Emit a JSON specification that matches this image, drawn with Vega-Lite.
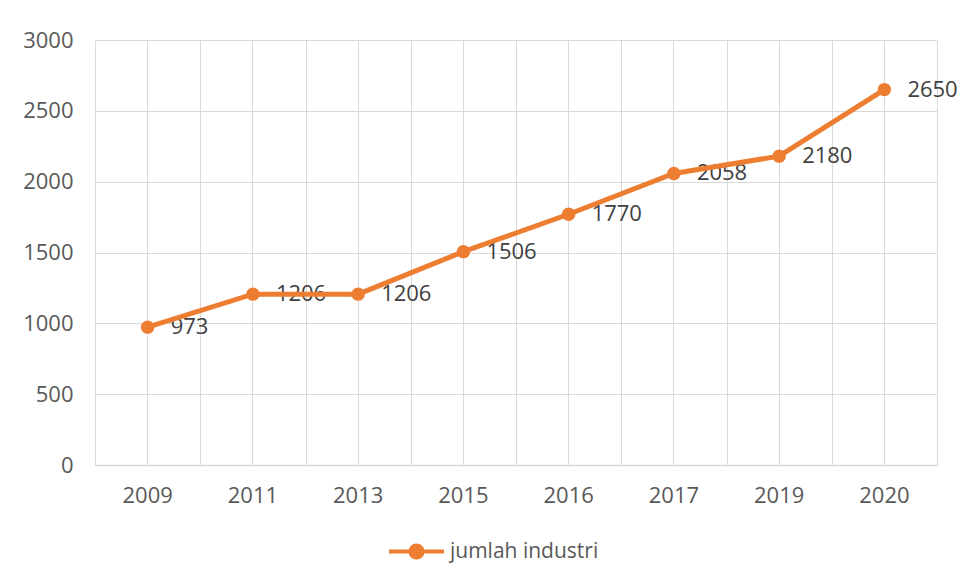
{
  "$schema": "https://vega.github.io/schema/vega-lite/v6.json",
  "width": 842,
  "height": 425,
  "autosize": {"type": "none"},
  "padding": {"left": 95, "top": 40, "right": 22, "bottom": 115},
  "background": "white",
  "config": {"view": {"stroke": null}, "font": "Open Sans"},
  "data": {
    "values": [
      {"year": "2009", "value": 973, "series": "jumlah industri"},
      {"year": "2011", "value": 1206, "series": "jumlah industri"},
      {"year": "2013", "value": 1206, "series": "jumlah industri"},
      {"year": "2015", "value": 1506, "series": "jumlah industri"},
      {"year": "2016", "value": 1770, "series": "jumlah industri"},
      {"year": "2017", "value": 2058, "series": "jumlah industri"},
      {"year": "2019", "value": 2180, "series": "jumlah industri"},
      {"year": "2020", "value": 2650, "series": "jumlah industri"}
    ]
  },
  "resolve": {"axis": {"x": "independent"}},
  "layer": [
    {
      "mark": {"type": "text", "align": "left", "baseline": "middle", "dx": 23, "fontSize": 22, "color": "#404040"},
      "encoding": {
        "x": {"field": "year", "type": "ordinal", "sort": null,
          "scale": {"type": "band", "paddingInner": 0, "paddingOuter": 0},
          "axis": {"orient": "top", "title": null, "labels": false, "ticks": false, "domain": false, "grid": true, "gridColor": "#d9d9d9", "gridWidth": 1, "tickBand": "extent"}},
        "y": {"field": "value", "type": "quantitative", "scale": {"domain": [0, 3000]},
          "axis": {"title": null, "format": "d", "values": [0, 500, 1000, 1500, 2000, 2500, 3000], "labelFontSize": 22, "labelColor": "#595959", "labelPadding": 22, "ticks": false, "domain": false, "grid": true, "gridColor": "#d9d9d9", "gridWidth": 1}},
        "text": {"field": "value", "type": "quantitative", "format": "d"}
      }
    },
    {
      "mark": {"type": "line", "strokeWidth": 5, "point": {"filled": true, "size": 180, "opacity": 1}},
      "encoding": {
        "x": {"field": "year", "type": "ordinal", "sort": null,
          "scale": {"type": "band", "paddingInner": 0, "paddingOuter": 0},
          "axis": {"orient": "bottom", "title": null, "labelAngle": 0, "labelFontSize": 22, "labelColor": "#595959", "labelPadding": 20, "ticks": false, "domain": true, "domainColor": "#d9d9d9", "domainWidth": 1.5, "grid": true, "gridColor": "#d9d9d9", "gridWidth": 1, "tickBand": "center"}},
        "y": {"field": "value", "type": "quantitative", "scale": {"domain": [0, 3000]},
          "axis": {"title": null, "format": "d", "values": [0, 500, 1000, 1500, 2000, 2500, 3000], "labelFontSize": 22, "labelColor": "#595959", "labelPadding": 22, "ticks": false, "domain": false, "grid": true, "gridColor": "#d9d9d9", "gridWidth": 1}},
        "color": {"field": "series", "type": "nominal",
          "scale": {"range": ["#ED7D31"]},
          "legend": {
            "orient": "none", "legendX": 292, "legendY": 482, "title": null, "padding": 0,
            "symbolType": "M-1,0H1M-0.22,0a0.22,0.22 0 1,0 0.44,0a0.22,0.22 0 1,0 -0.44,0Z",
            "symbolSize": 3025, "symbolStrokeWidth": 4, "symbolFillColor": "#ED7D31", "symbolStrokeColor": "#ED7D31",
            "labelFontSize": 21, "labelColor": "#595959", "labelOffset": 4,
            "encode": {"symbols": {"update": {"fill": {"value": "#ED7D31"}, "stroke": {"value": "#ED7D31"}, "strokeWidth": {"value": 4}, "opacity": {"value": 1}}}}
          }}
      }
    }
  ]
}
